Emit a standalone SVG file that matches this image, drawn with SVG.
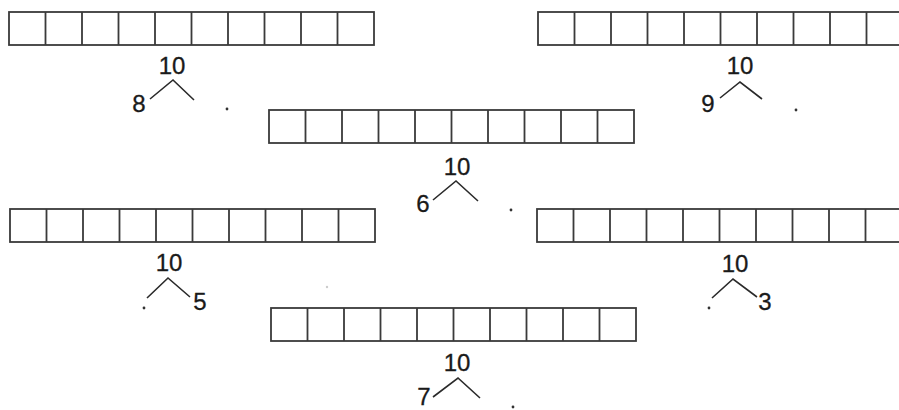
<svg xmlns="http://www.w3.org/2000/svg" width="899" height="410" viewBox="0 0 899 410">
<style>
.box{fill:none;stroke:#3a3a3a;stroke-width:1.8}
.num{font-family:"Liberation Sans",Arial,sans-serif;font-size:24px;fill:#1a1a1a;stroke:#1a1a1a;stroke-width:0.3}
.bond{fill:none;stroke:#2a2a2a;stroke-width:1.6;stroke-linejoin:miter}
.dot{fill:#333}
</style>
<defs>
<g id="strip">
<rect class="box" x="0" y="0" width="365" height="33"/>
<path class="box" d="M36.5 0V33M73 0V33M109.5 0V33M146 0V33M182.5 0V33M219 0V33M255.5 0V33M292 0V33M328.5 0V33"/>
</g>
</defs>
<rect width="899" height="410" fill="#fff"/>

<g id="strip-8"><use href="#strip" x="9" y="12"/></g>
<g id="strip-9"><use href="#strip" x="538" y="12"/></g>
<g id="strip-6"><use href="#strip" x="269" y="110"/></g>
<g id="strip-5"><use href="#strip" x="10" y="209"/></g>
<g id="strip-3"><use href="#strip" x="537" y="209"/></g>
<g id="strip-7"><use href="#strip" x="271" y="308"/></g>

<g id="bond-8">
<text class="num" x="172" y="74" text-anchor="middle">10</text>
<text class="num" x="139" y="112" text-anchor="middle">8</text>
<circle class="dot" cx="227" cy="109" r="1.4"/>
</g>
<g id="bond-9">
<text class="num" x="740" y="74" text-anchor="middle">10</text>
<text class="num" x="708" y="112" text-anchor="middle">9</text>
<circle class="dot" cx="796" cy="110" r="1.4"/>
</g>
<g id="bond-6">
<text class="num" x="457" y="175" text-anchor="middle">10</text>
<text class="num" x="423" y="212" text-anchor="middle">6</text>
<circle class="dot" cx="511" cy="210" r="1.4"/>
</g>
<g id="bond-5">
<text class="num" x="169" y="271" text-anchor="middle">10</text>
<text class="num" x="200" y="310" text-anchor="middle">5</text>
<circle class="dot" cx="144" cy="308" r="1.4"/>
<circle cx="327" cy="287" r="1.2" fill="#ccc"/>
</g>
<g id="bond-3">
<text class="num" x="735" y="272" text-anchor="middle">10</text>
<text class="num" x="765" y="310" text-anchor="middle">3</text>
<circle class="dot" cx="709" cy="308" r="1.4"/>
</g>
<g id="bond-7">
<text class="num" x="457" y="371" text-anchor="middle">10</text>
<text class="num" x="424" y="405" text-anchor="middle">7</text>
<circle class="dot" cx="513" cy="407" r="1.4"/>
</g>

<g id="connectors">
<polyline class="bond" points="150,99 173,80 194,100"/>
<polyline class="bond" points="720,98 740,82 762,99"/>
<polyline class="bond" points="433,200 456,181 478,201"/>
<polyline class="bond" points="147,298 168,278 190,297"/>
<polyline class="bond" points="712,298 733,279 757,297"/>
<polyline class="bond" points="433,397 458,378 480,398"/>
</g>
</svg>
